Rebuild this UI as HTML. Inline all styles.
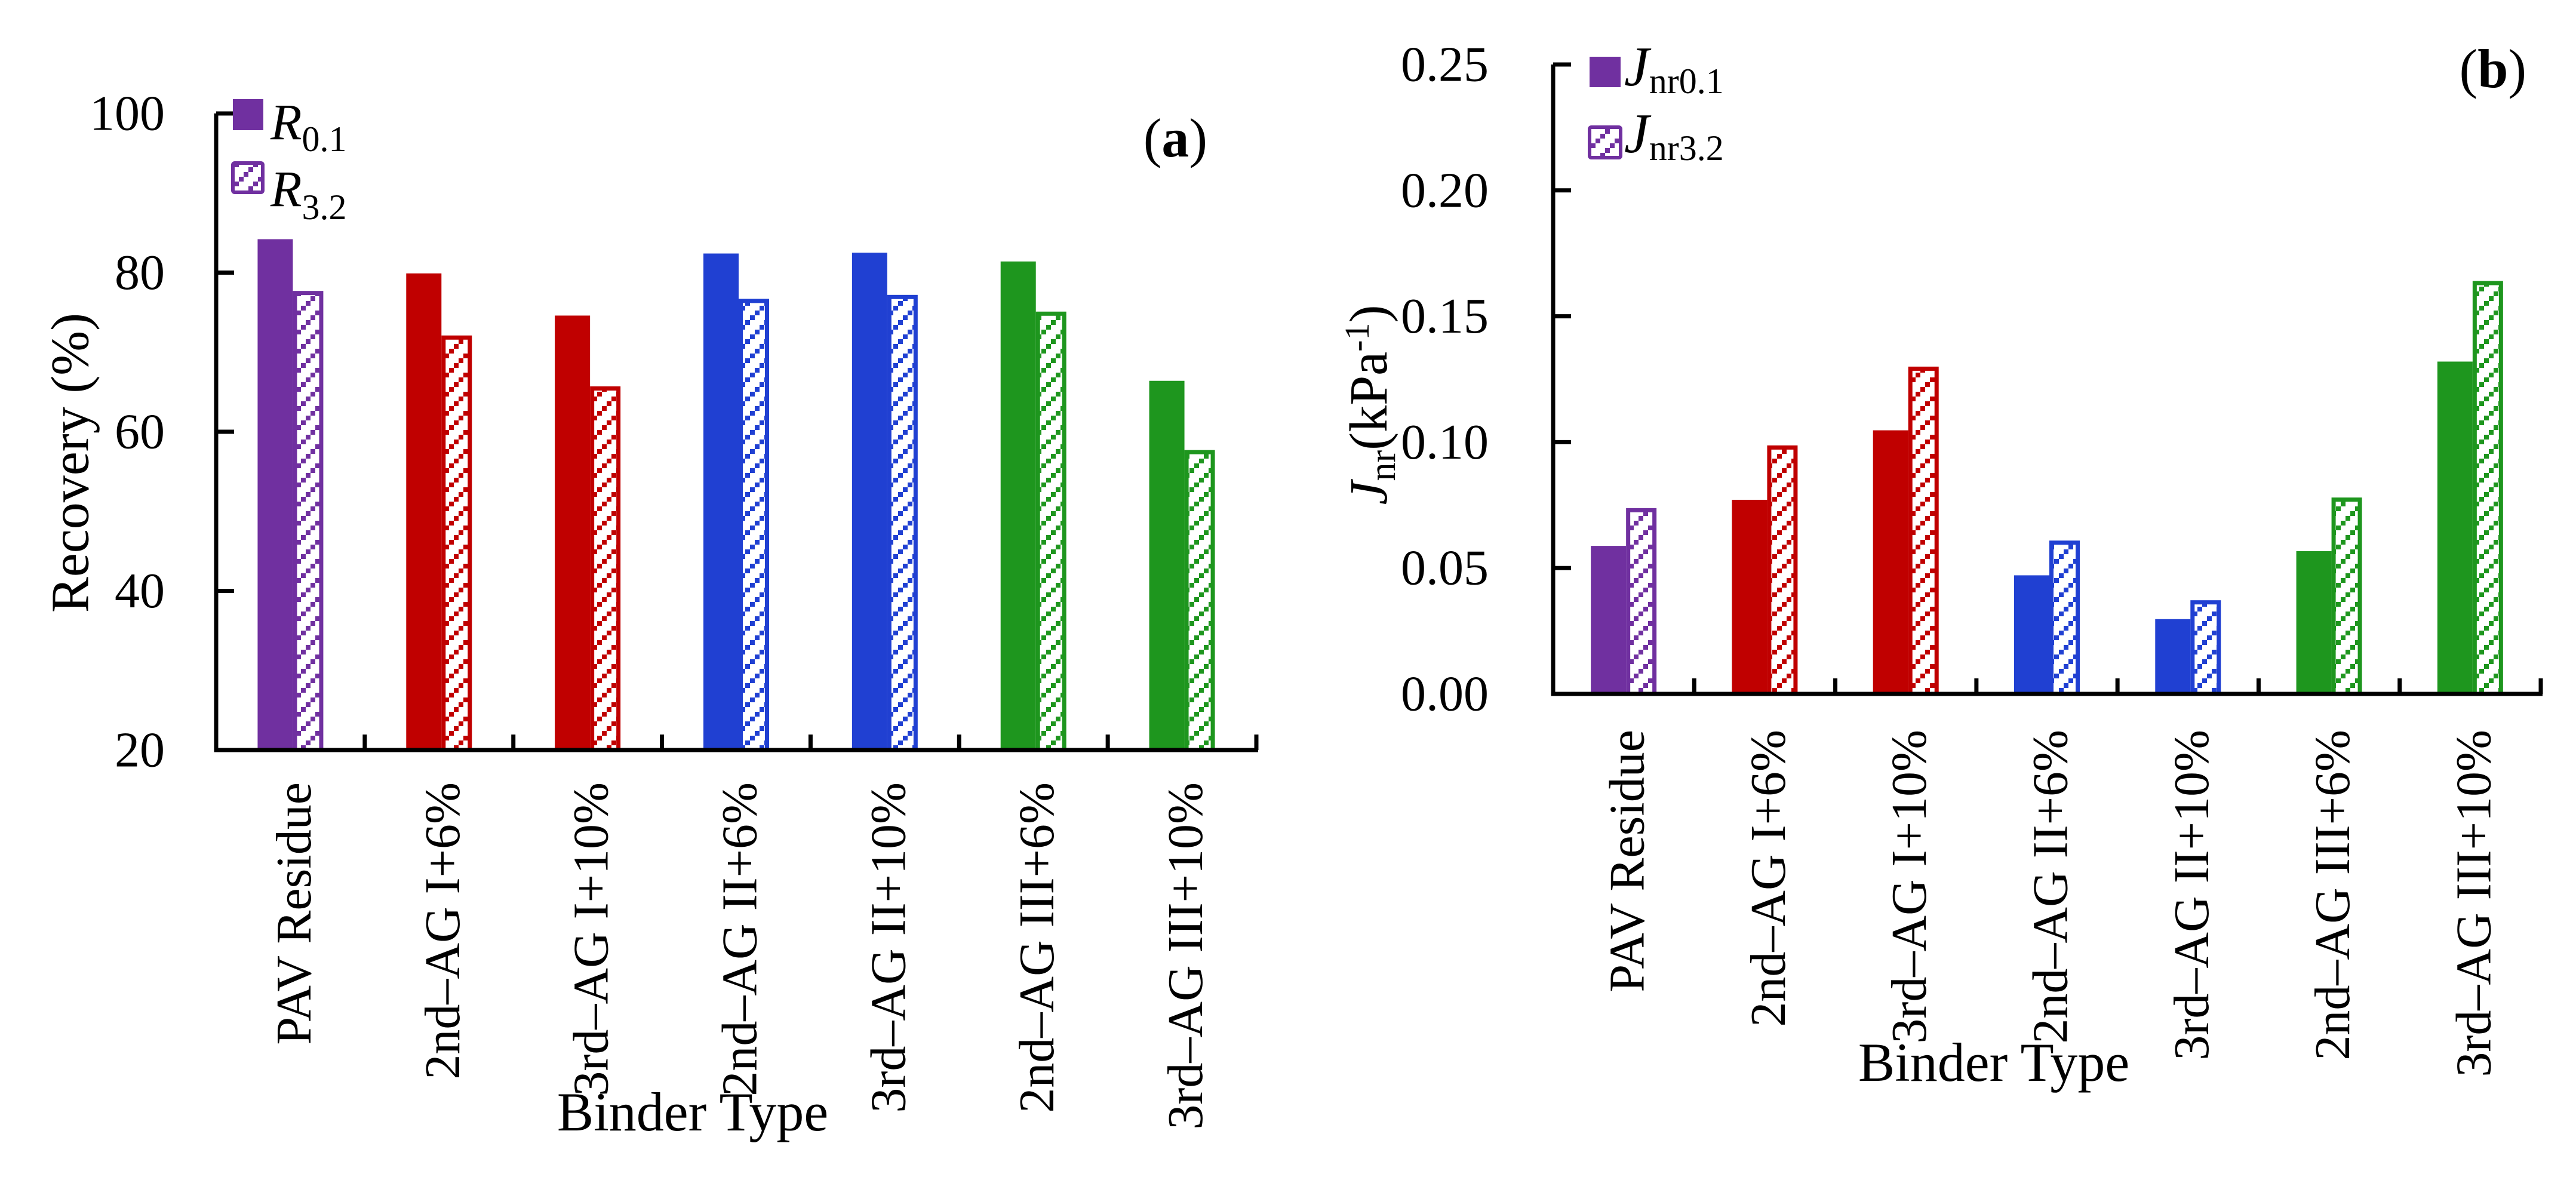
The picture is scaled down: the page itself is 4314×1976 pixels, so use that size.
<!DOCTYPE html>
<html><head><meta charset="utf-8">
<style>
html,body{margin:0;padding:0;background:#fff;}
svg{display:block;font-family:"Liberation Serif","DejaVu Serif",serif;}
</style></head>
<body>
<svg id="fig" width="4314" height="1976" viewBox="0 0 4314 1976" xmlns="http://www.w3.org/2000/svg">
<defs id="defs"></defs>
<g id="chartA"></g>
<g id="chartB"></g>
</svg>
<script>
const categories = ["PAV Residue","2nd\u2013AG I+6%","3rd\u2013AG I+10%","2nd\u2013AG II+6%","3rd\u2013AG II+10%","2nd\u2013AG III+6%","3rd\u2013AG III+10%"];
const groupColors = ["#7030A0","#C00000","#C00000","#2040D2","#2040D2","#1E961E","#1E961E"];
const r01 = [84.2, 79.9, 74.6, 82.4, 82.5, 81.4, 66.4];
const r32 = [77.7, 72.1, 65.7, 76.7, 77.2, 75.1, 57.7];
const jnr01 = [0.0588, 0.0771, 0.1047, 0.0471, 0.0297, 0.0567, 0.132];
const jnr32 = [0.0738, 0.0987, 0.130, 0.0609, 0.0372, 0.078, 0.164];
const ticksA = [20, 40, 60, 80, 100];
const tickLabelsA = ["20","40","60","80","100"];
const ticksB = [0, 0.05, 0.10, 0.15, 0.20, 0.25];
const tickLabelsB = ["0.00","0.05","0.10","0.15","0.20","0.25"];

const NS = "http://www.w3.org/2000/svg";
function mk(tag, attrs, parent){const e=document.createElementNS(NS,tag);for(const k in attrs)e.setAttribute(k,attrs[k]);if(parent)parent.appendChild(e);return e;}

const defs=document.getElementById('defs');
const uniq=[...new Set(groupColors)];
uniq.forEach(c=>{
  const p=mk('pattern',{id:'h'+c.slice(1),width:32,height:32,patternUnits:'userSpaceOnUse'},defs);
  mk('rect',{x:0,y:0,width:32,height:32,fill:'#fff'},p);
  [[0,24],[8,16],[16,8],[24,0]].forEach(q=>mk('rect',{x:q[0],y:q[1],width:8,height:8,fill:c},p));
});

function drawChart(gid, cfg){
  const g=document.getElementById(gid);
  const y=v=>cfg.y0+(v-cfg.vmin)/(cfg.vmax-cfg.vmin)*(cfg.y1-cfg.y0);
  const cw=(cfg.x1-cfg.x0)/categories.length;
  const xc=i=>cfg.x0+cw*(i+0.5);
  categories.forEach((c,i)=>{
    const col=groupColors[i];
    const cx=xc(i);
    const v1=cfg.s1[i], v2=cfg.s2[i];
    const b1=mk('rect',{x:cx-55,y:y(v1),width:59,height:y(cfg.vmin)-y(v1),fill:col},g);
    
    
    const b2=mk('rect',{x:cx+4+3.5,y:y(v2)+3.5,width:51-7,height:y(cfg.vmin)-y(v2)-3.5,fill:'url(#h'+col.slice(1)+')',stroke:col,'stroke-width':7},g);
    
    
  });
  const ax=mk('path',{d:`M${cfg.x0} ${cfg.y1}V${cfg.y0}`,stroke:'#000','stroke-width':7,fill:'none'},g);
  
  
  const xa=mk('path',{d:`M${cfg.x0-3.5} ${cfg.y0}H${cfg.x1+3}`,stroke:'#000','stroke-width':7,fill:'none'},g);
  
  
  cfg.ticks.forEach((t,k)=>{
    mk('path',{d:`M${cfg.x0} ${y(t)}h30`,stroke:'#000','stroke-width':7},g);
    const tl=mk('text',{x:cfg.tickX,y:y(t),'text-anchor':'end','dominant-baseline':'central','font-size':84},g);
    tl.textContent=cfg.tickLabels[k];
    
    
  });
  for(let i=1;i<=categories.length;i++){
    mk('path',{d:`M${cfg.x0+cw*i} ${cfg.y0}v-26`,stroke:'#000','stroke-width':7},g);
  }
  categories.forEach((c,i)=>{
    const t=mk('text',{x:0,y:0,'text-anchor':'end','dominant-baseline':'central','font-size':84,transform:`translate(${xc(i)+6},${cfg.labTop}) rotate(-90)`},g);
    t.textContent=c;
    
    
  });
}

drawChart('chartA',{x0:362,x1:2104,y0:1256,y1:190,vmin:20,vmax:100,s1:r01,s2:r32,ticks:ticksA,tickLabels:tickLabelsA,tickX:276,labTop:1310});
drawChart('chartB',{x0:2601,x1:4255,y0:1162,y1:108,vmin:0,vmax:0.25,s1:jnr01,s2:jnr32,ticks:ticksB,tickLabels:tickLabelsB,tickX:2493,labTop:1222});
</script>
<svg style="position:absolute;left:0;top:0" width="4314" height="1976" xmlns="http://www.w3.org/2000/svg" font-family="Liberation Serif, DejaVu Serif, serif">
<g>
  <rect x="390" y="166" width="51" height="52" fill="#7030A0"/>
  <rect x="390" y="273" width="50" height="49" fill="url(#h7030A0)" stroke="#7030A0" stroke-width="6" rx="3"/>
  <text x="453" y="233" font-size="86"><tspan font-style="italic">R</tspan><tspan font-size="60" dy="20">0.1</tspan></text>
  <text x="453" y="345" font-size="86"><tspan font-style="italic">R</tspan><tspan font-size="60" dy="22">3.2</tspan></text>
</g>
<text x="2022" y="262" text-anchor="end" font-size="92">(<tspan font-weight="bold">a</tspan>)</text>
<text x="0" y="0" text-anchor="middle" dominant-baseline="central" font-size="90" transform="translate(118,775) rotate(-90)">Recovery (%)</text>
<text x="1160" y="1893" text-anchor="middle" font-size="92">Binder Type</text>

<g>
  <rect x="2662" y="95" width="52" height="51" fill="#7030A0"/>
  <rect x="2662" y="213" width="52" height="51" fill="url(#h7030A0)" stroke="#7030A0" stroke-width="6" rx="3"/>
  <text x="2720" y="143" font-size="94"><tspan font-style="italic">J</tspan><tspan font-size="60" dy="13">nr0.1</tspan></text>
  <text x="2720" y="255" font-size="94"><tspan font-style="italic">J</tspan><tspan font-size="60" dy="13">nr3.2</tspan></text>
</g>
<text x="4231" y="146" text-anchor="end" font-size="92">(<tspan font-weight="bold">b</tspan>)</text>
<text x="0" y="0" text-anchor="middle" font-size="90" transform="translate(2322,678) rotate(-90)"><tspan font-style="italic">J</tspan><tspan font-size="62" dy="14">nr</tspan><tspan dy="-14">(kPa</tspan><tspan font-size="58" dy="-30">-1</tspan><tspan dy="30">)</tspan></text>
<text x="3339" y="1810" text-anchor="middle" font-size="92">Binder Type</text>
</svg>
</body></html>
